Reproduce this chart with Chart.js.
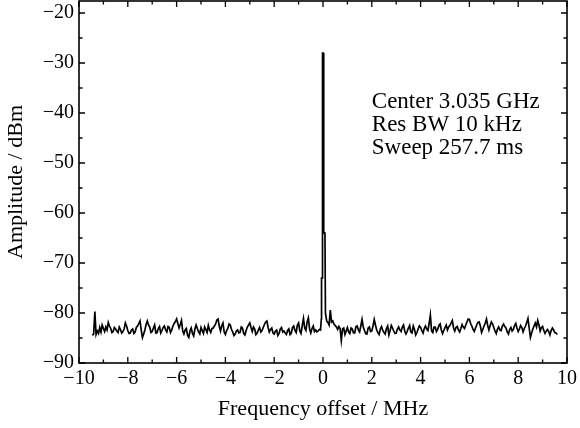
<!DOCTYPE html>
<html>
<head>
<meta charset="utf-8">
<script src="https://cdn.jsdelivr.net/npm/chart.js@4.4.1/dist/chart.umd.min.js"></script>
<style>
  html, body { margin: 0; padding: 0; background: #fff; }
</style>
</head>
<body>
<canvas id="spectrumChart" width="580" height="428"></canvas>
<script>
// barrido: puntos cada 0.05 MHz a la izquierda y derecha del pico
const pasoMHz = 0.05;
const inicioIzq = -9.45;
const ruidoIzq = [
  -84.5, -84.2, -79.7, -84.3, -83.6, -84.1, -82.9, -83.8, -82.4, -83.1,
  -83.7, -82.8, -83.4, -81.9, -82.6, -83.1, -83.9, -83.7, -82.9, -83.2,
  -83.6, -83.9, -82.8, -83.3, -84.0, -83.7, -83.2, -82.0, -82.6, -83.5,
  -84.1, -84.0, -83.4, -83.2, -84.1, -83.8, -82.9, -82.6, -82.1, -81.6,
  -83.4, -84.9, -84.2, -83.4, -82.3, -81.6, -82.4, -82.8, -83.9, -83.7,
  -83.0, -82.4, -84.0, -83.9, -83.1, -82.7, -84.0, -83.5, -82.9, -82.6,
  -83.4, -83.8, -82.7, -82.9, -83.9, -83.4, -82.6, -82.1, -81.7, -81.2,
  -82.1, -83.0, -82.3, -81.5, -83.6, -84.2, -83.4, -83.1, -84.5, -84.9,
  -83.6, -83.0, -84.1, -84.6, -83.2, -82.4, -83.1, -83.8, -84.2, -82.9,
  -83.5, -84.1, -82.8, -83.3, -83.9, -82.5, -83.4, -83.9, -83.1, -83.0,
  -82.6, -82.2, -81.4, -81.2, -82.7, -83.6, -82.5, -82.0, -83.8, -84.3,
  -83.5, -83.1, -82.2, -82.4, -83.3, -83.8, -84.5, -84.2, -83.6, -83.4,
  -84.0, -83.9, -82.8, -83.0, -84.1, -84.4, -83.5, -82.8, -82.4, -82.0,
  -82.9, -83.7, -82.8, -83.2, -84.3, -84.0, -83.4, -82.9, -83.8, -83.5,
  -82.9, -82.3, -81.8, -81.6, -82.9, -83.8, -83.3, -83.0, -84.0, -84.2,
  -83.6, -83.4, -84.5, -84.1, -83.2, -82.9, -83.8, -83.6, -84.0, -84.3,
  -83.5, -83.2, -84.3, -84.0, -82.9, -82.6, -83.5, -83.9, -82.4, -82.0,
  -83.6, -84.1, -82.5, -81.1, -83.0, -83.5, -81.8, -81.0, -83.2, -84.0,
  -83.1, -82.6, -83.7, -83.4, -83.8, -83.6, -83.3, -83.4
];
const picoFreq = [-0.07, -0.06, -0.03, -0.02, 0.01, 0.02, 0.03, 0.04, 0.08, 0.10, 0.15];
const picoDb   = [-81.2, -73.0, -73.0, -28.0, -28.0, -40.0, -45.0, -64.0, -64.0, -80.0, -81.6];
const inicioDer = 0.2;
const ruidoDer = [
  -81.9, -82.4, -79.4, -81.8, -81.6, -82.2, -82.5, -82.8, -83.3, -82.7,
  -83.1, -85.5, -83.2, -83.0, -84.3, -83.6, -82.9, -83.8, -84.1, -83.0,
  -83.2, -84.0, -84.0, -82.7, -82.6, -83.4, -83.8, -82.6, -81.3, -82.8,
  -83.5, -84.1, -84.2, -83.0, -82.8, -83.7, -83.6, -82.6, -81.3, -82.4,
  -83.4, -83.9, -84.3, -83.2, -82.7, -83.5, -83.9, -84.2, -83.1, -82.6,
  -84.4, -83.5, -82.5, -83.0, -83.6, -84.1, -84.0, -83.2, -82.8, -83.4,
  -83.7, -82.8, -82.4, -83.6, -84.2, -83.7, -83.0, -82.5, -83.8, -84.0,
  -82.6, -83.3, -84.4, -83.9, -83.2, -82.6, -82.9, -83.5, -84.0, -83.1,
  -82.6, -83.2, -83.5, -82.1, -80.4, -83.6, -83.9, -82.8, -82.8, -83.7,
  -83.3, -82.5, -82.2, -83.4, -84.1, -83.5, -82.9, -82.4, -83.4, -82.8,
  -82.5, -82.0, -81.5, -83.0, -83.6, -82.9, -82.7, -83.4, -83.8, -83.1,
  -82.3, -82.8, -83.1, -82.4, -81.8, -81.2, -81.3, -82.1, -82.6, -83.3,
  -83.7, -83.0, -82.4, -81.9, -81.8, -82.6, -83.9, -83.3, -82.6, -82.0,
  -81.2, -82.5, -83.4, -82.5, -81.8, -82.2, -82.9, -83.6, -84.1, -83.2,
  -82.8, -83.4, -83.5, -82.6, -82.2, -82.7, -83.0, -83.8, -84.2, -83.3,
  -82.9, -83.6, -83.3, -82.5, -82.1, -83.0, -83.7, -83.2, -82.5, -82.9,
  -83.8, -83.1, -82.6, -81.9, -81.1, -83.0, -84.9, -84.0, -83.2, -82.6,
  -82.0, -82.8, -81.5, -82.4, -83.6, -82.9, -82.7, -83.5, -84.1, -83.6,
  -83.3, -83.7, -84.4, -83.5, -83.0, -83.4, -83.9, -84.0, -84.3
];
const xTicks = [-10, -8, -6, -4, -2, 0, 2, 4, 6, 8, 10];
const xMinor = [-9, -7, -5, -3, -1, 1, 3, 5, 7, 9];
const yTicks = [-90, -80, -70, -60, -50, -40, -30, -20];
const yMinor = [-85, -75, -65, -55, -45, -35, -25];
const notas = ['Center 3.035 GHz', 'Res BW 10 kHz', 'Sweep 257.7 ms'];

const fuente = '"Liberation Serif", "Times New Roman", serif';

const puntos = [];
ruidoIzq.forEach((v, i) => puntos.push({ x: +(inicioIzq + i * pasoMHz).toFixed(2), y: v }));
picoFreq.forEach((f, i) => puntos.push({ x: f, y: picoDb[i] }));
ruidoDer.forEach((v, i) => puntos.push({ x: +(inicioDer + i * pasoMHz).toFixed(2), y: v }));

function menos(v) {
  return v < 0 ? '\u2212' + Math.abs(v) : String(v);
}

// marco, marcas hacia dentro y texto del analizador
const marcoPlugin = {
  id: 'marco',
  afterDatasetsDraw(chart) {
    const ctx = chart.ctx;
    const a = chart.chartArea;
    const sx = chart.scales.x;
    const sy = chart.scales.y;
    ctx.save();
    ctx.strokeStyle = '#000';
    ctx.lineWidth = 1.3;
    const marca = (lista, largo) => {
      lista.forEach(v => {
        const px = sx.getPixelForValue(v);
        ctx.beginPath();
        ctx.moveTo(px, a.bottom); ctx.lineTo(px, a.bottom - largo);
        ctx.moveTo(px, a.top); ctx.lineTo(px, a.top + largo);
        ctx.stroke();
      });
    };
    const marcaY = (lista, largo) => {
      lista.forEach(v => {
        const py = sy.getPixelForValue(v);
        ctx.beginPath();
        ctx.moveTo(a.left, py); ctx.lineTo(a.left + largo, py);
        ctx.moveTo(a.right, py); ctx.lineTo(a.right - largo, py);
        ctx.stroke();
      });
    };
    marca(xTicks, 6); marca(xMinor, 3.5);
    marcaY(yTicks, 6); marcaY(yMinor, 3.5);
    ctx.lineWidth = 1.6;
    ctx.strokeRect(a.left, a.top, a.right - a.left, a.bottom - a.top);

    ctx.fillStyle = '#000';
    ctx.font = '23px ' + fuente;
    ctx.textBaseline = 'alphabetic';
    ctx.textAlign = 'left';
    const tx = sx.getPixelForValue(2);
    const ty = sy.getPixelForValue(-39);
    notas.forEach((t, i) => ctx.fillText(t, tx, ty + i * 23));
    ctx.restore();
  }
};

const ctx = document.getElementById('spectrumChart').getContext('2d');
const chart = new Chart(ctx, {
  type: 'line',
  data: {
    datasets: [{
      label: 'Spectrum',
      data: puntos,
      borderColor: '#000',
      borderWidth: 1.7,
      pointRadius: 0,
      tension: 0,
      fill: false
    }]
  },
  options: {
    responsive: false,
    animation: false,
    layout: { padding: { top: 1, right: 13, left: 0, bottom: 0 } },
    plugins: { legend: { display: false }, tooltip: { enabled: false } },
    scales: {
      x: {
        type: 'linear',
        min: -10,
        max: 10,
        afterBuildTicks: s => { s.ticks = xTicks.map(v => ({ value: v })); },
        afterFit: s => { s.height = 65; s.paddingLeft = 0; s.paddingRight = 0; },
        grid: { display: false, drawTicks: false },
        border: { display: false },
        ticks: {
          color: '#000',
          padding: 4,
          maxRotation: 0,
          autoSkip: false,
          font: { family: fuente, size: 20 },
          callback: v => menos(v)
        },
        title: {
          display: true,
          text: 'Frequency offset / MHz',
          color: '#000',
          font: { family: fuente, size: 22 },
          padding: { top: 6, bottom: 6 }
        }
      },
      y: {
        min: -90,
        max: -17.6,
        afterBuildTicks: s => { s.ticks = yTicks.map(v => ({ value: v })); },
        afterFit: s => { s.width = 79; s.paddingTop = 0; s.paddingBottom = 0; },
        grid: { display: false, drawTicks: false },
        border: { display: false },
        ticks: {
          color: '#000',
          padding: 5,
          autoSkip: false,
          font: { family: fuente, size: 20 },
          callback: v => menos(v)
        },
        title: {
          display: true,
          text: 'Amplitude / dBm',
          color: '#000',
          font: { family: fuente, size: 22 },
          padding: { top: 3, bottom: 0 }
        }
      }
    }
  },
  plugins: [marcoPlugin]
});
</script>
</body>
</html>
